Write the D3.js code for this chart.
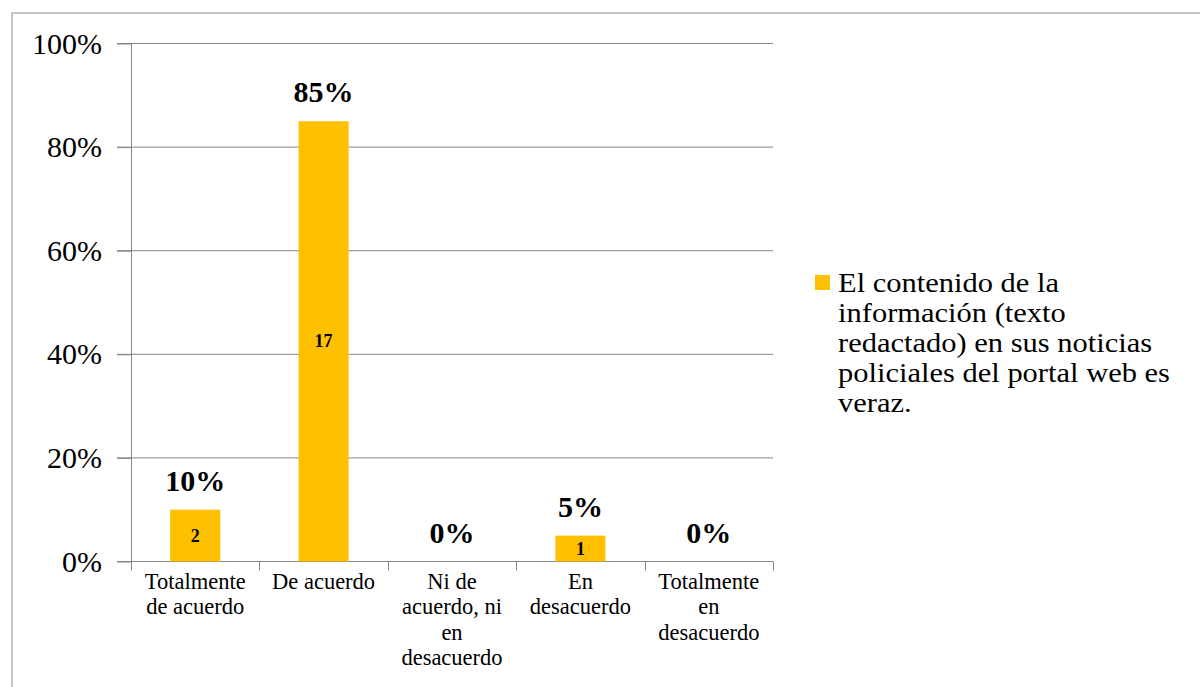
<!DOCTYPE html>
<html>
<head>
<meta charset="utf-8">
<script src="https://cdn.jsdelivr.net/npm/d3@7"></script>
<style>
  body { margin: 0; background: #fff; }
  svg { display: block; }
</style>
</head>
<body>
<svg id="chart_root" width="1200" height="687"></svg>
<script>
// chart data
var categories = ["Totalmente de acuerdo", "De acuerdo", "Ni de acuerdo, ni en desacuerdo", "En desacuerdo", "Totalmente en desacuerdo"];
var categoryLines = [["Totalmente", "de acuerdo"], ["De acuerdo"], ["Ni de", "acuerdo, ni", "en", "desacuerdo"], ["En", "desacuerdo"], ["Totalmente", "en", "desacuerdo"]];
var percentValues = [10, 85, 0, 5, 0];
var countValues = [2, 17, 0, 1, 0];
var yTicks = [0, 20, 40, 60, 80, 100];
var seriesName = ["El contenido de la", "información (texto", "redactado) en sus noticias", "policiales del portal web es", "veraz."];

var bar_colour = "#FFC000";
var grid_colour = "#868686";
var font = "Liberation Serif, Times New Roman, serif";

var margin = {top: 43.5, left: 131};
var width = 642, height = 518;

var svg = d3.select("#chart_root");

// outer frame (runs off the page to the right and bottom)
svg.append("rect")
  .attr("x", 12).attr("y", 13)
  .attr("width", 1200).attr("height", 700)
  .attr("fill", "none").attr("stroke", "#b4b4b4").attr("stroke-width", 1.5);

var g = svg.append("g").attr("transform", "translate(" + margin.left + "," + margin.top + ")");

var x = d3.scaleBand().domain(categories).range([0, width]).paddingInner(0.61).paddingOuter(0.305);
var y = d3.scaleLinear().domain([0, 100]).range([height, 0]);

// gridlines
g.selectAll(".grid")
  .data(yTicks.filter(function(d) { return d > 0; }))
  .enter().append("line")
  .attr("x1", -14).attr("x2", width)
  .attr("y1", function(d) { return y(d); })
  .attr("y2", function(d) { return y(d); })
  .attr("stroke", grid_colour).attr("stroke-width", 1);

// y axis
var yAxis = g.append("g")
  .call(d3.axisLeft(y).tickValues(yTicks).tickSize(14).tickPadding(15).tickFormat(function(d) { return d + "%"; }));
yAxis.select(".domain").attr("stroke", grid_colour).attr("d", "M0.5,0V" + height);
yAxis.selectAll(".tick line").attr("stroke", grid_colour);
yAxis.selectAll(".tick text")
  .attr("fill", "#000").attr("font-size", 30)
  .attr("font-family", font);

// x axis baseline and ticks at category boundaries
g.append("line")
  .attr("x1", -14).attr("x2", width)
  .attr("y1", height).attr("y2", height)
  .attr("stroke", grid_colour);
var step = x.step();
g.selectAll(".xtick")
  .data(d3.range(categories.length + 1))
  .enter().append("line")
  .attr("x1", function(i) { return Math.round(i * step) + 0.5; })
  .attr("x2", function(i) { return Math.round(i * step) + 0.5; })
  .attr("y1", height).attr("y2", height + 9)
  .attr("stroke", grid_colour);

// category labels
categories.forEach(function(c, i) {
  var t = g.append("text")
    .attr("x", x(c) + x.bandwidth() / 2)
    .attr("y", height + 27)
    .attr("text-anchor", "middle")
    .attr("font-family", font)
    .attr("font-size", 22.5)
    .attr("fill", "#000");
  categoryLines[i].forEach(function(line, j) {
    t.append("tspan")
      .attr("x", x(c) + x.bandwidth() / 2)
      .attr("dy", j === 0 ? 0 : 25.5)
      .text(line);
  });
});

// bars
g.selectAll(".bar")
  .data(percentValues)
  .enter().append("rect")
  .attr("x", function(d, i) { return x(categories[i]); })
  .attr("y", function(d) { return y(d); })
  .attr("width", x.bandwidth())
  .attr("height", function(d) { return height - y(d); })
  .attr("fill", bar_colour);

// percent labels above bars
g.selectAll(".pct")
  .data(percentValues)
  .enter().append("text")
  .attr("x", function(d, i) { return x(categories[i]) + x.bandwidth() / 2; })
  .attr("y", function(d) { return y(d) - 19; })
  .attr("text-anchor", "middle")
  .attr("font-family", font)
  .attr("font-size", 30).attr("font-weight", "bold")
  .attr("fill", "#000")
  .text(function(d) { return d + "%"; });

// counts inside bars (only where there is a bar)
var countData = countValues
  .map(function(d, i) { return {count: d, pct: percentValues[i], cat: categories[i]}; })
  .filter(function(d) { return d.count > 0; });
g.selectAll(".cnt")
  .data(countData)
  .enter().append("text")
  .attr("x", function(d) { return x(d.cat) + x.bandwidth() / 2; })
  .attr("y", function(d) { return (y(d.pct) + height) / 2 + 6; })
  .attr("text-anchor", "middle")
  .attr("font-family", font)
  .attr("font-size", 18).attr("font-weight", "bold")
  .attr("fill", "#000")
  .text(function(d) { return d.count; });

// legend
var legend = svg.append("g").attr("transform", "translate(815,275)");
legend.append("rect")
  .attr("x", 0).attr("y", 0).attr("width", 15).attr("height", 15)
  .attr("fill", bar_colour);
// text is slightly wide in the original, so stretch horizontally
var legendText = legend.append("g").attr("transform", "translate(23,0) scale(1.13,1)");
seriesName.forEach(function(line, j) {
  legendText.append("text")
    .attr("x", 0).attr("y", 17 + j * 30)
    .attr("font-family", font)
    .attr("font-size", 27).attr("fill", "#000")
    .text(line);
});
</script>
</body>
</html>
